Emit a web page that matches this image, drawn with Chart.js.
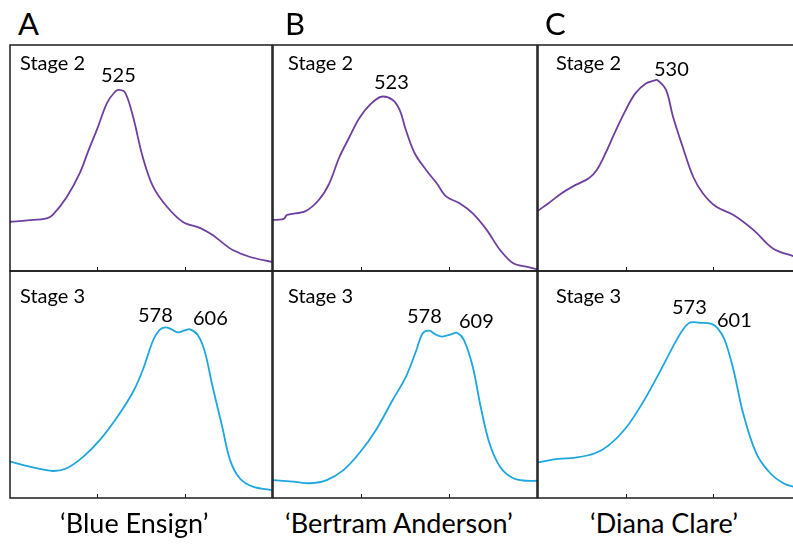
<!DOCTYPE html>
<html lang="en">
<head>
  <meta charset="UTF-8">
  <title>Reflectance spectra</title>
  <script src="https://cdn.jsdelivr.net/npm/chart.js"></script>
  <style>
    * {
      font-family: 'Lato', 'Noto Sans', sans-serif;
    }

    body {
      margin: 0;
      width: 793px;
      height: 545px;
      overflow: hidden;
      background: white;
      position: relative;
    }

    .panel {
      position: absolute;
    }

    .txt {
      position: absolute;
      line-height: 1;
      white-space: nowrap;
      color: #000;
      font-size: 20px;
    }

    .letter {
      font-size: 31px;
    }

    .cultivar {
      font-size: 27px;
    }
  </style>
</head>
<body>
  <!-- panels: chart area = canvas minus 1px padding -->
  <div class="panel" style="left:9px; top:44px;"><canvas id="a2" width="264" height="228"></canvas></div>
  <div class="panel" style="left:9px; top:270px;"><canvas id="a3" width="264" height="229"></canvas></div>
  <div class="panel" style="left:272px; top:44px;"><canvas id="b2" width="266" height="228"></canvas></div>
  <div class="panel" style="left:272px; top:270px;"><canvas id="b3" width="266" height="229"></canvas></div>
  <div class="panel" style="left:537px; top:44px;"><canvas id="c2" width="265" height="228"></canvas></div>
  <div class="panel" style="left:537px; top:270px;"><canvas id="c3" width="265" height="229"></canvas></div>

  <div class="txt letter" style="left:18px; top:8px;">A</div>
  <div class="txt letter" style="left:285px; top:8px;">B</div>
  <div class="txt letter" style="left:545px; top:8px;">C</div>

  <div class="txt" style="left:20px; top:52px;">Stage 2</div>
  <div class="txt" style="left:101px; top:64px;">525</div>
  <div class="txt" style="left:20px; top:285px;">Stage 3</div>
  <div class="txt" style="left:138px; top:304px;">578</div>
  <div class="txt" style="left:193px; top:307px;">606</div>

  <div class="txt" style="left:288px; top:52px;">Stage 2</div>
  <div class="txt" style="left:374px; top:71px;">523</div>
  <div class="txt" style="left:288px; top:285px;">Stage 3</div>
  <div class="txt" style="left:407px; top:305px;">578</div>
  <div class="txt" style="left:459px; top:310px;">609</div>

  <div class="txt" style="left:556px; top:52px;">Stage 2</div>
  <div class="txt" style="left:654px; top:58px;">530</div>
  <div class="txt" style="left:556px; top:285px;">Stage 3</div>
  <div class="txt" style="left:672px; top:296px;">573</div>
  <div class="txt" style="left:717px; top:309px;">601</div>

  <div class="txt cultivar" style="left:60px; top:509px;">‘Blue Ensign’</div>
  <div class="txt cultivar" style="left:285px; top:509px;">‘Bertram Anderson’</div>
  <div class="txt cultivar" style="left:590px; top:509px;">‘Diana Clare’</div>

  <script>
    // wavelength axis (nm)
    const xMin = 400;
    const xMax = 700;
    const tickValues = [500, 600];

    // 'Blue Ensign'
    const blueEnsignS2Wl = [400, 420, 442, 449, 465, 480, 490, 500, 511, 520, 525, 532, 541, 552, 564, 580, 598, 618, 632, 645, 655, 675, 700];
    const blueEnsignS2 = [0.218, 0.224, 0.233, 0.248, 0.327, 0.434, 0.535, 0.630, 0.743, 0.792, 0.801, 0.788, 0.681, 0.504, 0.372, 0.283, 0.217, 0.190, 0.159, 0.120, 0.093, 0.062, 0.040];
    const blueEnsignS3Wl = [400, 426, 449, 465, 484, 503, 523, 541, 552, 564, 571, 578, 585, 592, 600, 606, 615, 623, 632, 643, 652, 663, 678, 700];
    const blueEnsignS3 = [0.160, 0.135, 0.119, 0.131, 0.182, 0.256, 0.358, 0.468, 0.564, 0.696, 0.740, 0.752, 0.743, 0.730, 0.738, 0.743, 0.718, 0.645, 0.490, 0.314, 0.167, 0.087, 0.050, 0.035];

    // 'Bertram Anderson'
    const bertramS2Wl = [400, 410, 413, 416, 437, 452, 464, 475, 487, 498, 510, 523, 536, 544, 551, 561, 574, 586, 597, 612, 627, 643, 658, 673, 688, 700];
    const bertramS2 = [0.226, 0.228, 0.233, 0.248, 0.265, 0.314, 0.388, 0.500, 0.594, 0.676, 0.735, 0.771, 0.757, 0.712, 0.624, 0.521, 0.447, 0.388, 0.329, 0.300, 0.255, 0.181, 0.093, 0.034, 0.019, 0.008];
    const bertramS3Wl = [400, 423, 442, 461, 480, 498, 517, 536, 551, 563, 570, 578, 584, 592, 603, 609, 617, 627, 636, 646, 658, 673, 688, 700];
    const bertramS3 = [0.079, 0.072, 0.065, 0.079, 0.123, 0.197, 0.300, 0.432, 0.534, 0.652, 0.725, 0.737, 0.722, 0.711, 0.722, 0.728, 0.696, 0.578, 0.402, 0.241, 0.138, 0.087, 0.076, 0.076];

    // 'Diana Clare'
    const dianaS2Wl = [400, 412, 427, 443, 458, 467, 477, 488, 500, 511, 523, 532, 536, 546, 554, 565, 577, 588, 603, 623, 646, 668, 691, 700];
    const dianaS2 = [0.267, 0.300, 0.344, 0.381, 0.410, 0.447, 0.521, 0.616, 0.712, 0.786, 0.830, 0.842, 0.845, 0.801, 0.683, 0.550, 0.417, 0.344, 0.285, 0.248, 0.181, 0.100, 0.066, 0.057];
    const dianaS3Wl = [400, 423, 443, 465, 481, 500, 519, 538, 554, 565, 573, 584, 598, 605, 613, 623, 634, 649, 665, 680, 691, 700];
    const dianaS3 = [0.157, 0.172, 0.178, 0.197, 0.233, 0.307, 0.417, 0.549, 0.667, 0.740, 0.772, 0.772, 0.767, 0.747, 0.696, 0.564, 0.373, 0.197, 0.109, 0.065, 0.050, 0.045];

    const purple = '#6F3FA0';
    const blue = '#1DA6E0';

    const panels = [
      { id: 'a2', wl: blueEnsignS2Wl, val: blueEnsignS2, color: purple },
      { id: 'a3', wl: blueEnsignS3Wl, val: blueEnsignS3, color: blue },
      { id: 'b2', wl: bertramS2Wl, val: bertramS2, color: purple },
      { id: 'b3', wl: bertramS3Wl, val: bertramS3, color: blue },
      { id: 'c2', wl: dianaS2Wl, val: dianaS2, color: purple },
      { id: 'c3', wl: dianaS3Wl, val: dianaS3, color: blue }
    ];

    // box round the plot area + small inward ticks on the bottom edge
    const framePlugin = {
      id: 'frame',
      afterDraw(chart) {
        const { ctx, chartArea: a } = chart;
        const x = chart.scales.x;
        ctx.save();
        ctx.strokeStyle = '#1c1c1c';
        ctx.lineWidth = 1.5;
        ctx.strokeRect(a.left, a.top, a.right - a.left, a.bottom - a.top);
        ctx.beginPath();
        tickValues.forEach(v => {
          const px = Math.round(x.getPixelForValue(v)) + 0.5;
          ctx.moveTo(px, a.bottom);
          ctx.lineTo(px, a.bottom - 4);
        });
        ctx.lineWidth = 1;
        ctx.stroke();
        ctx.restore();
      }
    };

    panels.forEach(p => {
      new Chart(document.getElementById(p.id), {
        type: 'line',
        data: {
          datasets: [{
            data: p.wl.map((w, i) => ({ x: w, y: p.val[i] })),
            borderColor: p.color,
            borderWidth: 1.8,
            pointRadius: 0,
            tension: 0.35,
            fill: false
          }]
        },
        options: {
          responsive: false,
          animation: false,
          layout: { padding: 1 },
          plugins: {
            legend: { display: false },
            tooltip: { enabled: false }
          },
          scales: {
            x: { type: 'linear', min: xMin, max: xMax, display: false },
            y: { min: 0, max: 1, display: false }
          }
        },
        plugins: [framePlugin]
      });
    });
  </script>
</body>
</html>
